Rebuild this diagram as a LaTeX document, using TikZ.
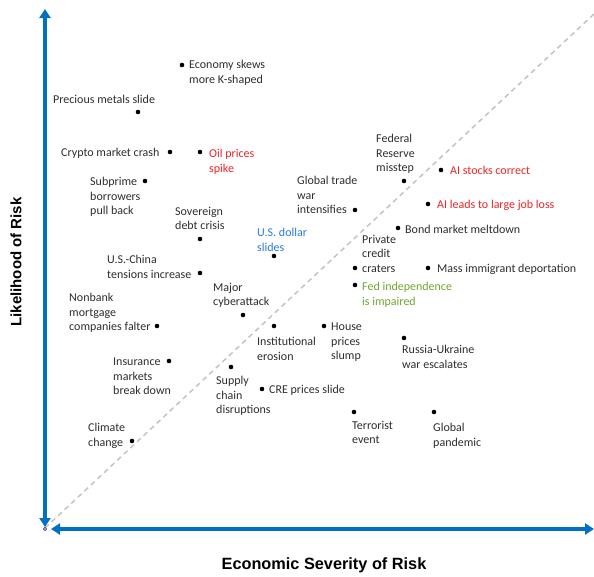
\documentclass[tikz,border=0pt]{standalone}
\usepackage{fontspec}
\setmainfont{Carlito}
\newfontfamily\axisfont{Liberation Sans}
\usetikzlibrary{arrows.meta}
\definecolor{axisblue}{RGB}{0,112,192}
\definecolor{txtgray}{RGB}{45,45,45}
\definecolor{riskred}{RGB}{238,36,36}
\definecolor{riskblue}{RGB}{40,120,230}
\definecolor{riskgreen}{RGB}{112,165,50}
\definecolor{diaggray}{RGB}{195,195,195}
\tikzset{
  dot/.style={circle,fill=black,inner sep=0pt,minimum size=4.6pt},
  lbl/.style={anchor=north west,inner sep=0pt,yshift=-1pt,align=left,text=txtgray,
    font=\fontsize{12}{14.5}\selectfont},
  axis/.style={axisblue,line width=3.5pt,{Triangle[length=9pt,width=11pt]}-{Triangle[length=9pt,width=11pt]}},
  axislbl/.style={font=\axisfont\bfseries\fontsize{15}{18}\selectfont,text=black}
}
\begin{document}
\begin{tikzpicture}[x=1pt,y=-1pt]
                \useasboundingbox (0,0) rectangle (594,576);
                %% diagonal
                \draw[diaggray,line width=1.5pt,dash pattern=on 5pt off 4pt] (45,528) -- (594,14);
                %% axes
                \draw[axis] (45,9) -- (45,527);
                \draw[axis] (51,529) -- (594,529);
                \draw[fill=white,draw={rgb,255:red,70;green,50;blue,110},line width=0.8pt] (45,529) circle (1.6pt);
                \node[axislbl,rotate=90] (ylab) at (16,262) {Likelihood of Risk};
                \node[axislbl,font=\axisfont\bfseries\fontsize{16.3}{19}\selectfont] (xlab) at (324,565) {Economic Severity of Risk};
                %% risks
                \foreach \n/\x/\y in {econ/182/65,metals/138/112,crypto/170/152,oil/200/152,
                    subprime/145/181,sovereign/200/239,dollar/274/256,uschina/200/273,
                    cyber/243/315,nonbank/157/326,instit/274/326,house/324/326,
                    insur/169/361,supply/231/367,cre/262/389,climate/132/441,
                    terror/354/412,pandemic/434/412,russia/404/338,trade/355/210,
                    fed/404/181,aistocks/441/170,aijobs/428/204,bond/398/228,
                    private/355/268,mass/428/268,fedind/355/285}
                    \node[dot] (\n) at (\x,\y) {};
                \node[lbl] (econL) at (189,59) {Economy skews\\more K-shaped};
                \node[lbl] (metalsL) at (53,94) {Precious metals slide};
                \node[lbl] (cryptoL) at (61,147) {Crypto market crash};
                \node[lbl,text=riskred] (oilL) at (209,148) {Oil prices\\spike};
                \node[lbl] (subprimeL) at (90,176) {Subprime\\borrowers\\pull back};
                \node[lbl] (sovereignL) at (175,206) {Sovereign\\debt crisis};
                \node[lbl,text=riskblue] (dollarL) at (257,227) {U.S. dollar\\slides};
                \node[lbl] (uschinaL) at (107,254) {U.S.-China\\tensions increase};
                \node[lbl] (cyberL) at (213,282) {Major\\cyberattack};
                \node[lbl] (nonbankL) at (69,292) {Nonbank\\mortgage\\companies falter};
                \node[lbl] (institL) at (257,336) {Institutional\\erosion};
                \node[lbl] (houseL) at (331,322) {House\\prices\\slump};
                \node[lbl] (insurL) at (113,357) {Insurance\\markets\\break down};
                \node[lbl] (supplyL) at (216,375) {Supply\\chain\\disruptions};
                \node[lbl] (creL) at (269,384) {CRE prices slide};
                \node[lbl] (climateL) at (88,422) {Climate\\change};
                \node[lbl] (terrorL) at (352,420) {Terrorist\\event};
                \node[lbl] (pandemicL) at (433,422) {Global\\pandemic};
                \node[lbl] (russiaL) at (402,344) {Russia-Ukraine\\war escalates};
                \node[lbl] (tradeL) at (297,175) {Global trade\\war\\intensifies};
                \node[lbl] (fedL) at (376,133) {Federal\\Reserve\\misstep};
                \node[lbl,text=riskred] (aistocksL) at (450,165) {AI stocks correct};
                \node[lbl,text=riskred] (aijobsL) at (437,199) {AI leads to large job loss};
                \node[lbl] (bondL) at (405,224) {Bond market meltdown};
                \node[lbl] (privateL) at (362,234) {Private\\credit\\craters};
                \node[lbl] (massL) at (437,263) {Mass immigrant deportation};
                \node[lbl,text=riskgreen] (fedindL) at (362,281) {Fed independence\\is impaired};
\end{tikzpicture}
\end{document}
